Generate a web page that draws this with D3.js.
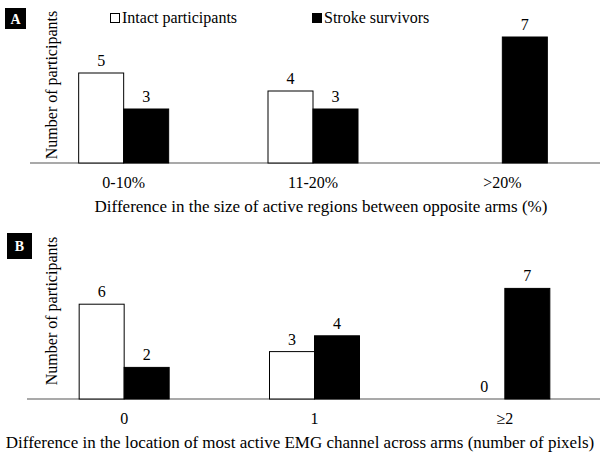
<!DOCTYPE html>
<html><head><meta charset="utf-8">
<script src="https://cdn.jsdelivr.net/npm/d3@7"></script>
<style>body{margin:0;background:#fff}svg{display:block}text{font-family:"Liberation Serif","Times New Roman",serif}</style>
</head><body><div id="c"></div>
<script>
const series = ["Intact participants", "Stroke survivors"];
const catsA = ["0-10%", "11-20%", ">20%"];
const intactA = [5, 4, 0];
const strokeA = [3, 3, 7];
const showZeroA = false;
const titleA = "Difference in the size of active regions between opposite arms (%)";
const catsB = ["0", "1", "\u22652"];
const intactB = [6, 3, 0];
const strokeB = [2, 4, 7];
const showZeroB = true;
const titleB = "Difference in the location of most active EMG channel across arms (number of pixels)";
const yTitle = "Number of participants";

const W = 600, H = 454;
const svg = d3.select("#c").append("svg").attr("width", W).attr("height", H);
const colors = {"Intact participants": "#fff", "Stroke survivors": "#000"};

function panel(cfg) {
  const {letter, cats, intact, stroke, showZero, title, titleX, base, top, axisX0, box, yT, x1} = cfg;
  const x = d3.scaleBand().domain(cats).range([29, x1]).padding(0);
  const bw = x.bandwidth();
  const inner = d3.scaleBand().domain(series).range([bw/2 - 45, bw/2 + 45]);
  const y = d3.scaleLinear().domain([0, 8]).range([base, top]);
  const g = svg.append("g");
  const rows = [];
  cats.forEach((c, i) => {
    rows.push({c, s: series[0], v: intact[i]});
    rows.push({c, s: series[1], v: stroke[i]});
  });
  const ax = d3.axisBottom(x).tickSize(0).tickPadding(0);
  const axG = g.append("g").attr("transform", `translate(0,${base})`).call(ax);
  axG.select(".domain").attr("d", `M${axisX0},0H600`).attr("stroke", "#8c8c8c").attr("stroke-width", 1.5);
  axG.selectAll(".tick text").attr("font-size", 16).attr("fill", "#000").attr("dy", null).attr("y", 25)
     .attr("font-family", "Liberation Serif");
  g.selectAll("rect.bar").data(rows.filter(d => d.v > 0)).join("rect")
    .attr("x", d => x(d.c) + inner(d.s))
    .attr("width", inner.bandwidth())
    .attr("y", d => y(d.v))
    .attr("height", d => y(0) - y(d.v))
    .attr("fill", d => colors[d.s])
    .attr("stroke", "#000").attr("stroke-width", 1);
  g.selectAll("text.val").data(rows.filter(d => d.v > 0 || (showZero && d.s === series[0]))).join("text")
    .attr("x", d => x(d.c) + inner(d.s) + inner.bandwidth()/2 + (d.v === 0 ? 2 : 0))
    .attr("y", d => y(d.v) - 7)
    .attr("text-anchor", "middle").attr("font-size", 16).text(d => d.v);
  g.append("text").attr("x", titleX).attr("y", base + 49).attr("text-anchor", "middle")
    .attr("font-size", 17).text(title);
  g.append("text").attr("transform", `translate(57,${yT}) rotate(-90)`).attr("text-anchor", "middle")
    .attr("font-size", 16).text(yTitle);
  g.append("rect").attr("x", box[0]).attr("y", box[1]).attr("width", box[2]).attr("height", box[3]).attr("fill", "#000");
  g.append("text").attr("x", box[0] + box[2]/2).attr("y", box[1] + box[3]/2 + 5).attr("text-anchor", "middle")
    .attr("fill", "#fff").attr("font-weight", "bold").attr("font-size", 14).text(letter);
}

panel({letter: "A", cats: catsA, intact: intactA, stroke: strokeA, showZero: showZeroA, title: titleA, titleX: 321,
  base: 163, top: 19, axisX0: 30, box: [5, 8, 21, 21], yT: 85, x1: 597});
panel({letter: "B", cats: catsB, intact: intactB, stroke: strokeB, showZero: showZeroB, title: titleB, titleX: 300,
  base: 399, top: 272.6, axisX0: 27, box: [7, 233, 25, 26], yT: 311, x1: 600});

const lx = [110, 312];
const lg = svg.append("g");
series.forEach((s, i) => {
  lg.append("rect").attr("x", lx[i] + 0.5).attr("y", 13.5).attr("width", 9).attr("height", 9)
    .attr("fill", colors[s]).attr("stroke", "#000").attr("stroke-width", 1);
  lg.append("text").attr("x", lx[i] + 12).attr("y", 23).attr("font-size", 16).text(s);
});
</script></body></html>
